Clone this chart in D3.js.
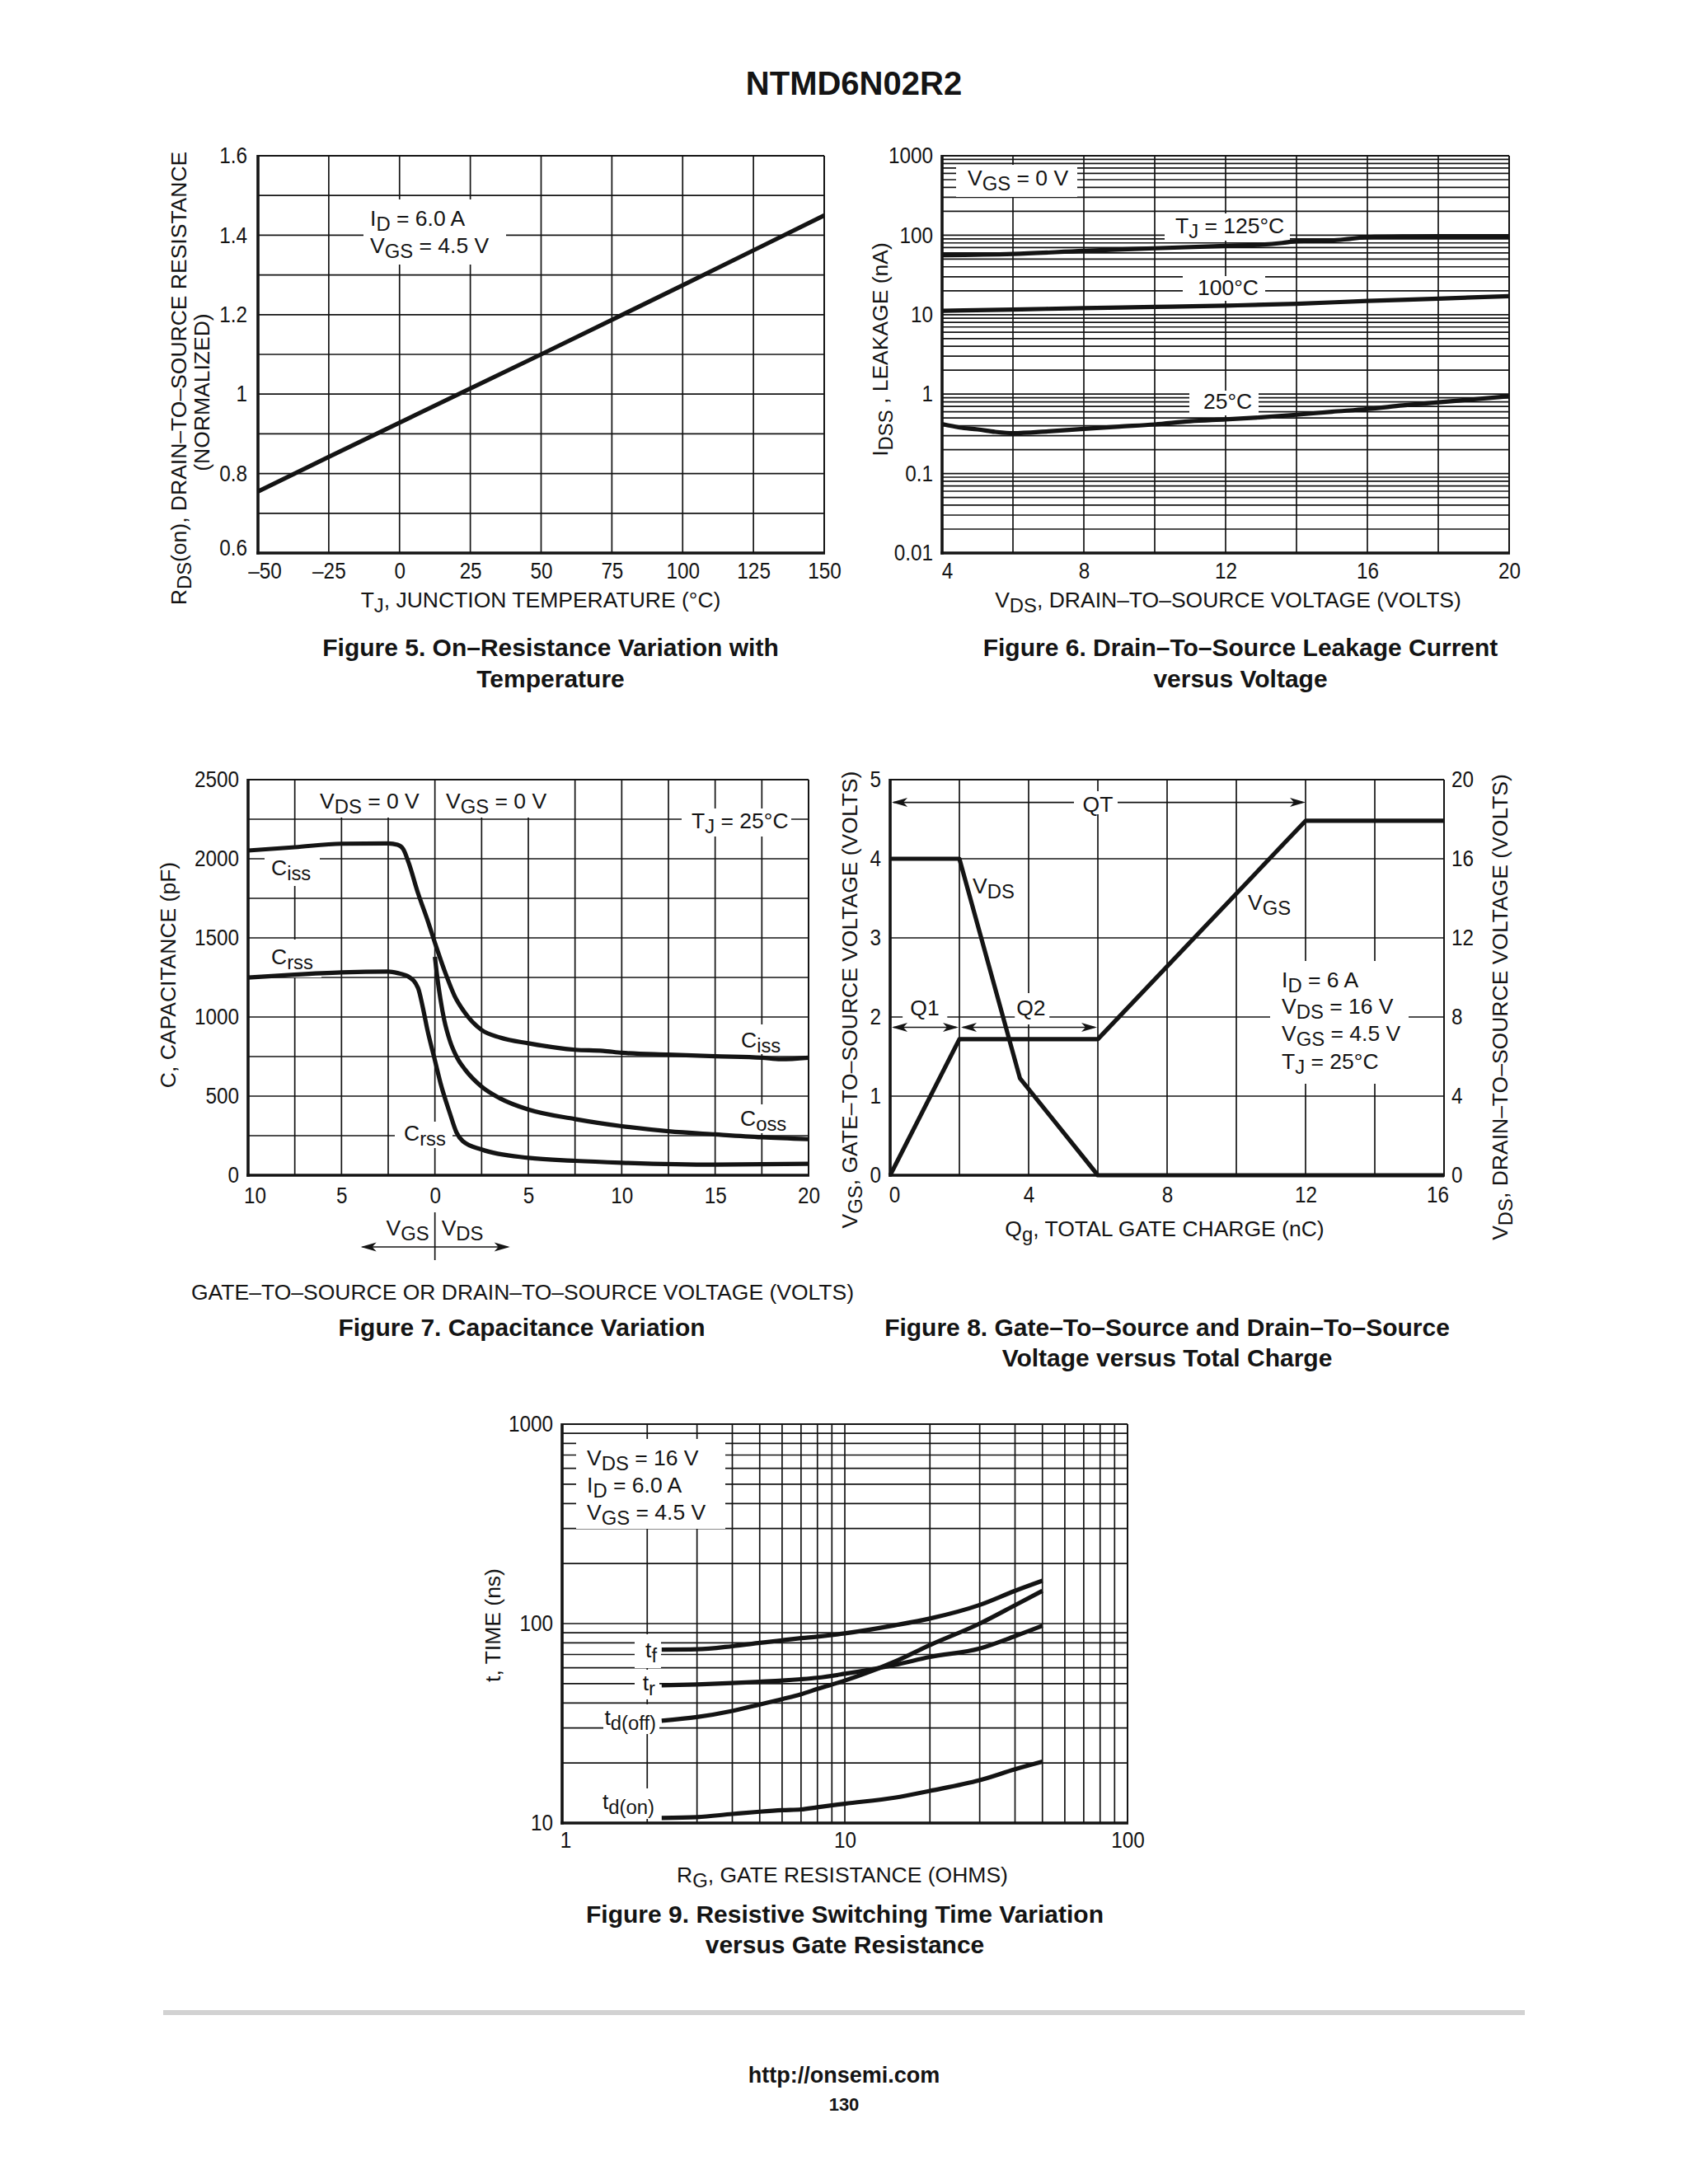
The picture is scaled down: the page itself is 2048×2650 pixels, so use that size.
<!DOCTYPE html>
<html><head><meta charset="utf-8">
<script src="https://cdn.jsdelivr.net/npm/d3@7"></script>
<style>body{margin:0;background:#fff}svg{display:block}</style>
</head><body><svg id="chart" width="2048" height="2650"></svg>
<script>
// ---------------- DATA ----------------
// Figure 5
const fig5Temp = [-50,-25,0,25,50,75,100,125,150];
const fig5Rds  = [0.755,0.842,0.928,1.014,1.100,1.187,1.274,1.362,1.450];
const fig5XTicks = [-50,-25,0,25,50,75,100,125,150];
const fig5YGrid  = [0.6,0.7,0.8,0.9,1.0,1.1,1.2,1.3,1.4,1.5,1.6];
const fig5YTicks = [0.6,0.8,1.0,1.2,1.4,1.6];
// Figure 6
const fig6Vds125 = [4,6,8,10,12,13,13.6,14,15,15.5,16,17,18,20];
const fig6I125   = [56,58,63.5,68.5,73.5,76,80,84,86,90,94.5,96.5,97,97];
const fig6Vds100 = [4,6,8,10,12,14,16,18,20];
const fig6I100   = [11.2,11.6,12.1,12.5,13.0,13.7,14.9,15.9,17.1];
const fig6Vds25  = [4,4.5,5,5.5,6,7,8,9,10,11,12,13,14,15,16,17,18,19,20];
const fig6I25    = [0.42,0.38,0.36,0.335,0.322,0.34,0.365,0.39,0.415,0.455,0.48,0.51,0.55,0.6,0.65,0.72,0.79,0.86,0.94];
const fig6XGrid  = [4,6,8,10,12,14,16,18,20];
const fig6XTicks = [4,8,12,16,20];
const fig6YTicks = [0.01,0.1,1,10,100,1000];
// Figure 7 (negative x = V_GS side)
const fig7CissV = [-10,-7.5,-5,-2.5,-2,-1.7,-1.4,-0.9,-0.4,0,0.56,1.05,1.54,2.5,3.5,5,7.5,9,10,12.5,15,17.5,18.5,20];
const fig7Ciss  = [2052,2073,2095,2097,2088,2062,1973,1781,1614,1469,1278,1134,1038,918,870,834,793,786,774,762,752,743,733,743];
const fig7CrssV = [-10,-7.5,-5,-2.5,-2,-1.4,-0.9,-0.65,-0.4,0,0.3,0.8,1.15,1.5,2.5,5,7.5,10,15,20];
const fig7Crss  = [1249,1268,1282,1287,1278,1254,1182,1062,918,726,582,392,272,215,163,110,91,79,67,72];
const fig7CossV = [0,0.15,0.3,0.5,0.8,1.2,1.6,2.5,3.5,5,7.5,10,12.5,15,17.5,20];
const fig7Coss  = [1380,1230,1110,980,850,740,670,560,485,415,355,310,278,258,240,228];
const fig7XGrid  = [-10,-7.5,-5,-2.5,0,2.5,5,7.5,10,12.5,15,17.5,20];
const fig7XTicks = [-10,-5,0,5,10,15,20];
const fig7YGrid  = [0,250,500,750,1000,1250,1500,1750,2000,2250,2500];
const fig7YTicks = [0,500,1000,1500,2000,2500];
// Figure 8
const fig8QgGS = [0,2,6,12,16];
const fig8Vgs  = [0,1.72,1.72,4.48,4.48];
const fig8QgDS = [0,2,3.75,6,16];
const fig8Vds  = [16,16,4.9,0,0];
const fig8XGrid  = [0,2,4,6,8,10,12,14,16];
const fig8XTicks = [0,4,8,12,16];
const fig8YTicks = [0,1,2,3,4,5];
const fig8Y2Ticks = [0,4,8,12,16,20];
// Figure 9
const fig9Rg    = [2.25,3,4,5,6,7,8,10,15,20,30,40,50];
const fig9Tf    = [74,74.3,77,80,82.5,84.5,86,89.3,98,106,124,146,164];
const fig9Tr    = [49,49.5,50.3,51.1,51.8,52.6,53.5,56,62,68,75,86.5,97.5];
const fig9Tdoff = [32.6,34,36.5,39.3,41.8,44.2,47,51.8,64.4,78,100,123.6,146];
const fig9Tdon  = [10.6,10.7,11.1,11.4,11.6,11.7,12,12.5,13.4,14.5,16.4,18.6,20.3];
const fig9XTicks = [1,10,100];
const fig9YTicks = [10,100,1000];

// ---------------- HELPERS ----------------
const svg = d3.select("#chart");
const FONT = '"Liberation Sans", Arial, Helvetica, sans-serif';
const INK = "#141414";
const GRID_W = 1.7, AXIS_W = 3.6, BORDER_W = 2, CURVE_W = 5.2;
const TXT = 26.5, TICK = 27, CAP = 30, SUBSHIFT = 0.22;
svg.append("rect").attr("width",2048).attr("height",2650).attr("fill","#fff");

function txt(g, x, y, parts, o = {}) {
  const size = o.size || TXT;
  const t = g.append("text").attr("x", x).attr("y", y)
    .attr("font-family", FONT).attr("font-size", size).attr("fill", INK)
    .attr("text-anchor", o.anchor || "start")
    .attr("font-weight", o.bold ? "bold" : "normal");
  if (o.rotate) t.attr("transform", `rotate(${o.rotate},${x},${y})`);
  let down = false;
  (Array.isArray(parts) ? parts : [parts]).forEach(p => {
    const s = typeof p === "string" ? { t: p } : p;
    const ts = t.append("tspan").text(s.t);
    if (s.sub) { ts.attr("font-size", size * 0.9); if (!down) ts.attr("dy", size * SUBSHIFT); down = true; }
    else if (down) { ts.attr("dy", -size * SUBSHIFT); down = false; }
  });
  return t;
}
function ln(g, x1, y1, x2, y2, w) {
  g.append("line").attr("x1",x1).attr("y1",y1).attr("x2",x2).attr("y2",y2)
   .attr("stroke",INK).attr("stroke-width",w);
}
function blank(g, x0, y0, x1, y1) {
  g.append("rect").attr("x",x0).attr("y",y0).attr("width",x1-x0).attr("height",y1-y0).attr("fill","#fff");
}
function frame(g, L) {
  ln(g, L.l, L.t, L.r, L.t, BORDER_W);
  ln(g, L.r, L.t, L.r, L.b, BORDER_W);
  ln(g, L.l, L.t - 1, L.l, L.b + AXIS_W/2, AXIS_W);
  ln(g, L.l - AXIS_W/2, L.b, L.r + 1, L.b, AXIS_W);
}
function styleAxis(sel) {
  sel.attr("font-family", FONT).attr("font-size", TICK);
  sel.select(".domain").remove();
  sel.selectAll(".tick line").remove();
  sel.selectAll("text").attr("fill", INK).each(function () {
    const w = this.getComputedTextLength();
    if (w > 0) { this.setAttribute("textLength", (w * 0.9).toFixed(1)); this.setAttribute("lengthAdjust", "spacingAndGlyphs"); }
  });
}
function nudgeFirst(sel, dx) {
  sel.selectAll(".tick text").filter((d, i) => i === 0).attr("dx", dx);
}
function curve(g, xs, ys, sx, sy, smooth, w = CURVE_W) {
  const pts = xs.map((v, i) => [v, ys[i]]);
  const gen = d3.line().x(d => sx(d[0])).y(d => sy(d[1]));
  if (smooth) gen.curve(d3.curveMonotoneX);
  g.append("path").attr("d", gen(pts)).attr("fill","none").attr("stroke",INK)
   .attr("stroke-width", w).attr("stroke-linejoin","round").attr("stroke-linecap","butt");
}
function arrowHead(g, x, y, dir) {
  const L = 19, H = 5.5, N = 14;
  g.append("path").attr("d", `M${x},${y} L${x - dir*L},${y - H} L${x - dir*N},${y} L${x - dir*L},${y + H} Z`).attr("fill", INK);
}
function logGrid(domain) {
  const out = [];
  const a = Math.round(Math.log10(domain[0])), b = Math.round(Math.log10(domain[1]));
  for (let e = a; e < b; e++) for (let k = 1; k < 10; k++) out.push(k * Math.pow(10, e));
  out.push(domain[1]);
  return out;
}
const dash = d => d < 0 ? "\u2013" + (-d) : String(d);

// ---------------- PAGE TITLE ----------------
txt(svg, 1036, 115, "NTMD6N02R2", { size: 40, bold: true, anchor: "middle" });

// ---------------- FIGURE 5 ----------------
{
  const L = { l: 313, r: 1000, t: 189, b: 671 };
  const g = svg.append("g");
  const x = d3.scaleLinear().domain([-50, 150]).range([L.l, L.r]);
  const y = d3.scaleLinear().domain([0.6, 1.6]).range([L.b, L.t]);
  fig5XTicks.forEach(v => ln(g, x(v), L.t, x(v), L.b, GRID_W));
  fig5YGrid.forEach(v => ln(g, L.l, y(v), L.r, y(v), GRID_W));
  blank(g, 441, 242, 614, 321);
  frame(g, L);
  curve(g, fig5Temp, fig5Rds, x, y, false);
  g.append("g").attr("transform", `translate(${L.l},0)`)
    .call(d3.axisLeft(y).tickValues(fig5YTicks).tickSize(0).tickPadding(13).tickFormat(d => d === 1 ? "1" : d3.format(".1f")(d)))
    .call(styleAxis)
    .call(s => s.selectAll(".tick text").filter((d, i) => i === 0).attr("dy", "0.1em"));
  g.append("g").attr("transform", `translate(0,${L.b})`)
    .call(d3.axisBottom(x).tickValues(fig5XTicks).tickSize(0).tickPadding(12).tickFormat(dash))
    .call(styleAxis).call(s => nudgeFirst(s, 8));
  txt(g, 449, 274, ["I", { t: "D", sub: 1 }, " = 6.0 A"]);
  txt(g, 449, 307, ["V", { t: "GS", sub: 1 }, " = 4.5 V"]);
  txt(g, 226, 459, ["R", { t: "DS", sub: 1 }, "(on), DRAIN\u2013TO\u2013SOURCE RESISTANCE"], { rotate: -90, anchor: "middle" });
  txt(g, 254, 476, "(NORMALIZED)", { rotate: -90, anchor: "middle" });
  txt(g, 656, 737, ["T", { t: "J", sub: 1 }, ", JUNCTION TEMPERATURE (\u00B0C)"], { anchor: "middle" });
  txt(g, 668, 796, "Figure 5. On\u2013Resistance Variation with", { size: CAP, bold: true, anchor: "middle" });
  txt(g, 668, 834, "Temperature", { size: CAP, bold: true, anchor: "middle" });
}

// ---------------- FIGURE 6 ----------------
{
  const L = { l: 1143, r: 1831, t: 189, b: 671 };
  const g = svg.append("g");
  const x = d3.scaleLinear().domain([4, 20]).range([L.l, L.r]);
  const y = d3.scaleLog().domain([0.01, 1000]).range([L.b, L.t]);
  fig6XGrid.forEach(v => ln(g, x(v), L.t, x(v), L.b, GRID_W));
  logGrid([0.01, 1000]).forEach(v => ln(g, L.l, y(v), L.r, y(v), GRID_W));
  blank(g, 1160, 200, 1307, 239);
  blank(g, 1413, 259, 1565, 292);
  blank(g, 1435, 335, 1535, 365);
  blank(g, 1443, 474, 1527, 504);
  frame(g, L);
  curve(g, fig6Vds125, fig6I125, x, y, true);
  curve(g, fig6Vds100, fig6I100, x, y, true);
  curve(g, fig6Vds25, fig6I25, x, y, true);
  g.append("g").attr("transform", `translate(${L.l},0)`)
    .call(d3.axisLeft(y).tickValues(fig6YTicks).tickSize(0).tickPadding(11).tickFormat(d => String(d)))
    .call(styleAxis);
  g.append("g").attr("transform", `translate(0,${L.b})`)
    .call(d3.axisBottom(x).tickValues(fig6XTicks).tickSize(0).tickPadding(12).tickFormat(d => String(d)))
    .call(styleAxis).call(s => nudgeFirst(s, 6));
  txt(g, 1174, 225, ["V", { t: "GS", sub: 1 }, " = 0 V"]);
  txt(g, 1426, 283, ["T", { t: "J", sub: 1 }, " = 125\u00B0C"]);
  txt(g, 1453, 358, "100\u00B0C");
  txt(g, 1460, 496, "25\u00B0C");
  txt(g, 1077, 424, ["I", { t: "DSS", sub: 1 }, " , LEAKAGE (nA)"], { rotate: -90, anchor: "middle" });
  txt(g, 1490, 737, ["V", { t: "DS", sub: 1 }, ", DRAIN\u2013TO\u2013SOURCE VOLTAGE (VOLTS)"], { anchor: "middle" });
  txt(g, 1505, 796, "Figure 6. Drain\u2013To\u2013Source Leakage Current", { size: CAP, bold: true, anchor: "middle" });
  txt(g, 1505, 834, "versus Voltage", { size: CAP, bold: true, anchor: "middle" });
}

// ---------------- FIGURE 7 ----------------
{
  const L = { l: 301, r: 981, t: 946, b: 1426 };
  const g = svg.append("g");
  const x = d3.scaleLinear().domain([-10, 20]).range([L.l, L.r]);
  const y = d3.scaleLinear().domain([0, 2500]).range([L.b, L.t]);
  fig7XGrid.forEach(v => ln(g, x(v), L.t, x(v), L.b, GRID_W));
  fig7YGrid.forEach(v => ln(g, L.l, y(v), L.r, y(v), GRID_W));
  blank(g, 374, 947, x(0) - 2, 992);
  blank(g, x(0) + 2, 947, 680, 992);
  blank(g, 827, 981, 960, 1015);
  blank(g, 321, 1029, 388, 1075);
  blank(g, 321, 1140, 390, 1186);
  blank(g, 893, 1243, 957, 1279);
  blank(g, 893, 1340, 957, 1375);
  blank(g, 479, 1361, 549, 1393);
  frame(g, L);
  curve(g, fig7CissV, fig7Ciss, x, y, true);
  curve(g, fig7CrssV, fig7Crss, x, y, true);
  curve(g, fig7CossV, fig7Coss, x, y, true);
  g.append("g").attr("transform", `translate(${L.l},0)`)
    .call(d3.axisLeft(y).tickValues(fig7YTicks).tickSize(0).tickPadding(11).tickFormat(d => String(d)))
    .call(styleAxis);
  g.append("g").attr("transform", `translate(0,${L.b})`)
    .call(d3.axisBottom(x).tickValues(fig7XTicks).tickSize(0).tickPadding(15).tickFormat(d => String(Math.abs(d))))
    .call(styleAxis).call(s => nudgeFirst(s, 8));
  txt(g, 388, 981, ["V", { t: "DS", sub: 1 }, " = 0 V"]);
  txt(g, 541, 981, ["V", { t: "GS", sub: 1 }, " = 0 V"]);
  txt(g, 839, 1005, ["T", { t: "J", sub: 1 }, " = 25\u00B0C"]);
  txt(g, 329, 1062, ["C", { t: "iss", sub: 1 }]);
  txt(g, 329, 1170, ["C", { t: "rss", sub: 1 }]);
  txt(g, 899, 1271, ["C", { t: "iss", sub: 1 }]);
  txt(g, 898, 1366, ["C", { t: "oss", sub: 1 }]);
  txt(g, 490, 1384, ["C", { t: "rss", sub: 1 }]);
  const x0 = x(0);
  ln(g, x0, 1471, x0, 1529, GRID_W);
  txt(g, x0 - 7, 1499, ["V", { t: "GS", sub: 1 }], { anchor: "end" });
  txt(g, x0 + 8, 1499, ["V", { t: "DS", sub: 1 }]);
  ln(g, x0 - 88, 1513, x0 + 88, 1513, GRID_W);
  arrowHead(g, x0 - 90, 1513, -1);
  arrowHead(g, x0 + 91, 1513, 1);
  txt(g, 213, 1183, "C, CAPACITANCE (pF)", { rotate: -90, anchor: "middle" });
  txt(g, 634, 1577, "GATE\u2013TO\u2013SOURCE OR DRAIN\u2013TO\u2013SOURCE VOLTAGE (VOLTS)", { anchor: "middle" });
  txt(g, 633, 1621, "Figure 7. Capacitance Variation", { size: CAP, bold: true, anchor: "middle" });
}

// ---------------- FIGURE 8 ----------------
{
  const L = { l: 1080, r: 1752, t: 946, b: 1426 };
  const g = svg.append("g");
  const x = d3.scaleLinear().domain([0, 16]).range([L.l, L.r]);
  const y = d3.scaleLinear().domain([0, 5]).range([L.b, L.t]);
  const y2 = d3.scaleLinear().domain([0, 20]).range([L.b, L.t]);
  fig8XGrid.forEach(v => ln(g, x(v), L.t, x(v), L.b, GRID_W));
  fig8YTicks.forEach(v => ln(g, L.l, y(v), L.r, y(v), GRID_W));
  blank(g, x(0.36), 1205, x(1.65), 1243);
  blank(g, x(3.6), 1205, x(4.6), 1243);
  blank(g, 1541, 1166, 1709, 1315);
  frame(g, L);
  const yq = 973.6;
  ln(g, L.l + 4, yq, x(12) - 4, yq, GRID_W);
  arrowHead(g, L.l + 2, yq, -1);
  arrowHead(g, x(12), yq, 1);
  blank(g, 1303, 960, 1356, 988);
  txt(g, x(6), 985, "QT", { anchor: "middle" });
  const yQ = y(1.87);
  ln(g, L.l + 4, yQ, x(2) - 4, yQ, GRID_W);
  arrowHead(g, L.l + 2, yQ, -1);
  arrowHead(g, x(2) - 1, yQ, 1);
  ln(g, x(2) + 4, yQ, x(6) - 4, yQ, GRID_W);
  arrowHead(g, x(2) + 2, yQ, -1);
  arrowHead(g, x(6) - 1, yQ, 1);
  txt(g, x(1), 1232, "Q1", { anchor: "middle" });
  txt(g, x(4.07), 1232, "Q2", { anchor: "middle" });
  curve(g, fig8QgGS, fig8Vgs, x, y, false);
  curve(g, fig8QgDS, fig8Vds, x, y2, false);
  g.append("g").attr("transform", `translate(${L.l},0)`)
    .call(d3.axisLeft(y).tickValues(fig8YTicks).tickSize(0).tickPadding(11).tickFormat(d => String(d)))
    .call(styleAxis);
  g.append("g").attr("transform", `translate(${L.r},0)`)
    .call(d3.axisRight(y2).tickValues(fig8Y2Ticks).tickSize(0).tickPadding(9).tickFormat(d => String(d)))
    .call(styleAxis);
  g.append("g").attr("transform", `translate(0,${L.b})`)
    .call(d3.axisBottom(x).tickValues(fig8XTicks).tickSize(0).tickPadding(14).tickFormat(d => String(d)))
    .call(styleAxis)
    .call(s => { nudgeFirst(s, 5); s.selectAll(".tick text").filter((d, i) => i === 4).attr("dx", -8); });
  txt(g, 1180, 1084, ["V", { t: "DS", sub: 1 }]);
  txt(g, 1514, 1104, ["V", { t: "GS", sub: 1 }]);
  txt(g, 1555, 1198, ["I", { t: "D", sub: 1 }, " = 6 A"]);
  txt(g, 1555, 1230, ["V", { t: "DS", sub: 1 }, " = 16 V"]);
  txt(g, 1555, 1263, ["V", { t: "GS", sub: 1 }, " = 4.5 V"]);
  txt(g, 1555, 1297, ["T", { t: "J", sub: 1 }, " = 25\u00B0C"]);
  txt(g, 1040, 1213, ["V", { t: "GS", sub: 1 }, ", GATE\u2013TO\u2013SOURCE VOLTAGE (VOLTS)"], { rotate: -90, anchor: "middle" });
  txt(g, 1829, 1222, ["V", { t: "DS", sub: 1 }, ", DRAIN\u2013TO\u2013SOURCE VOLTAGE (VOLTS)"], { rotate: -90, anchor: "middle" });
  txt(g, 1413, 1500, ["Q", { t: "g", sub: 1 }, ", TOTAL GATE CHARGE (nC)"], { anchor: "middle" });
  txt(g, 1416, 1621, "Figure 8. Gate\u2013To\u2013Source and Drain\u2013To\u2013Source", { size: CAP, bold: true, anchor: "middle" });
  txt(g, 1416, 1658, "Voltage versus Total Charge", { size: CAP, bold: true, anchor: "middle" });
}

// ---------------- FIGURE 9 ----------------
{
  const L = { l: 682, r: 1368, t: 1728, b: 2212 };
  const g = svg.append("g");
  const x = d3.scaleLog().domain([1, 100]).range([L.l, L.r]);
  const y = d3.scaleLog().domain([10, 1000]).range([L.b, L.t]);
  logGrid([1, 100]).forEach(v => ln(g, x(v), L.t, x(v), L.b, GRID_W));
  logGrid([10, 1000]).forEach(v => ln(g, L.l, y(v), L.r, y(v), GRID_W));
  blank(g, 699, 1746, 880, 1855);
  blank(g, 770, 1983, 802, 2024);
  blank(g, 770, 2026, 800, 2062);
  blank(g, 732, 2068, 800, 2104);
  blank(g, 733, 2170, 800, 2207);
  frame(g, L);
  curve(g, fig9Rg, fig9Tf, x, y, true);
  curve(g, fig9Rg, fig9Tr, x, y, true);
  curve(g, fig9Rg, fig9Tdoff, x, y, true);
  curve(g, fig9Rg, fig9Tdon, x, y, true);
  g.append("g").attr("transform", `translate(${L.l},0)`)
    .call(d3.axisLeft(y).tickValues(fig9YTicks).tickSize(0).tickPadding(11).tickFormat(d => String(d)))
    .call(styleAxis);
  g.append("g").attr("transform", `translate(0,${L.b})`)
    .call(d3.axisBottom(x).tickValues(fig9XTicks).tickSize(0).tickPadding(11).tickFormat(d => String(d)))
    .call(styleAxis).call(s => nudgeFirst(s, 4));
  txt(g, 712, 1778, ["V", { t: "DS", sub: 1 }, " = 16 V"]);
  txt(g, 712, 1811, ["I", { t: "D", sub: 1 }, " = 6.0 A"]);
  txt(g, 712, 1844, ["V", { t: "GS", sub: 1 }, " = 4.5 V"]);
  txt(g, 797, 2011, ["t", { t: "f", sub: 1 }], { anchor: "end" });
  txt(g, 795, 2051, ["t", { t: "r", sub: 1 }], { anchor: "end" });
  txt(g, 796, 2093, ["t", { t: "d(off)", sub: 1 }], { anchor: "end" });
  txt(g, 794, 2195, ["t", { t: "d(on)", sub: 1 }], { anchor: "end" });
  txt(g, 607, 1972, "t, TIME (ns)", { rotate: -90, anchor: "middle" });
  txt(g, 1022, 2284, ["R", { t: "G", sub: 1 }, ", GATE RESISTANCE (OHMS)"], { anchor: "middle" });
  txt(g, 1025, 2333, "Figure 9. Resistive Switching Time Variation", { size: CAP, bold: true, anchor: "middle" });
  txt(g, 1025, 2370, "versus Gate Resistance", { size: CAP, bold: true, anchor: "middle" });
}

// ---------------- FOOTER ----------------
svg.append("line").attr("x1", 198).attr("x2", 1850).attr("y1", 2442).attr("y2", 2442)
  .attr("stroke", "#d2d2d2").attr("stroke-width", 6);
txt(svg, 1024, 2527, "http://onsemi.com", { size: 27, bold: true, anchor: "middle" });
txt(svg, 1024, 2561, "130", { size: 22, bold: true, anchor: "middle" });
</script></body></html>
